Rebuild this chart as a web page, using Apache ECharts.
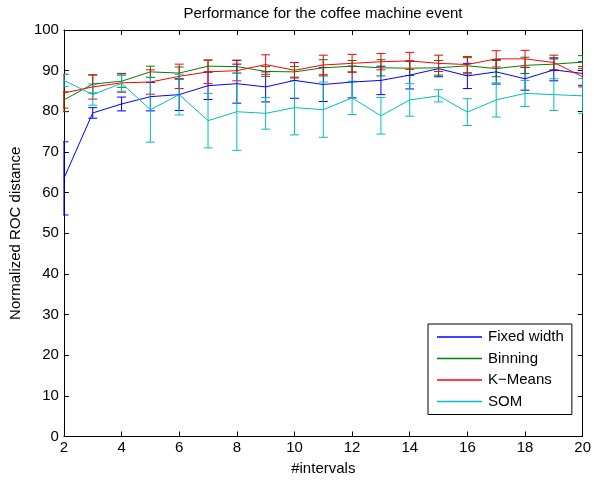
<!DOCTYPE html>
<html><head><meta charset="utf-8">
<script src="https://cdn.jsdelivr.net/npm/echarts@6/dist/echarts.min.js"></script>
<style>html,body{margin:0;padding:0;background:#fff}#c{width:594px;height:481px}</style>
</head><body><div id="c"></div>
<script>
const intervals = [2,3,4,5,6,7,8,9,10,11,12,13,14,15,16,17,18,19,20];
const xTicks = [2,4,6,8,10,12,14,16,18,20];
const yTicks = [0,10,20,30,40,50,60,70,80,90,100];

const fixedWidth    = [63.5,79.6,81.8,83.6,84.1,86.3,86.8,86.0,87.6,86.6,87.2,87.6,88.9,90.5,88.7,89.7,88.0,90.2,89.3];
const fixedWidthErr = [9.0,1.3,1.7,3.5,3.9,3.4,4.8,3.7,4.4,4.2,3.9,3.5,3.4,2.0,3.1,3.0,2.8,2.7,2.9];

const binning    = [82.8,86.7,87.4,89.7,89.4,91.1,91.0,89.8,89.7,90.7,91.1,90.7,90.6,90.7,91.2,90.5,91.3,91.6,92.1];
const binningErr = [2.0,2.2,1.5,1.4,1.5,1.5,1.6,1.2,1.3,2.0,1.4,2.0,1.8,1.8,2.0,2.0,2.0,1.6,1.6];

const kMeans    = [84.5,86.0,87.0,87.2,88.6,89.7,90.0,91.5,90.1,91.4,91.8,92.2,92.4,91.8,91.5,92.9,92.9,92.0,88.5];
const kMeansErr = [4.6,3.0,2.3,3.0,3.0,2.9,2.5,2.4,1.9,2.4,2.2,2.0,2.1,2.0,2.0,2.0,2.1,1.8,2.5];

const som    = [87.6,84.1,86.9,80.4,84.1,77.7,79.9,79.5,80.9,80.4,83.3,78.9,82.8,83.8,79.8,82.8,84.4,84.1,83.8];
const somErr = [1.5,2.6,2.0,8.0,5.0,6.7,9.5,3.9,6.7,6.8,4.1,4.5,4.0,1.5,3.3,4.2,3.2,3.9,4.3];

const names = ['Fixed width','Binning','K\u2212Means','SOM'];
const colors = ['#0000ff','#008000','#ff0000','#00bfbf'];
const FF = '"Liberation Sans", Arial, Helvetica, sans-serif';

function errSeries(name, means, errs, color) {
  return {
    type:'custom', name: name + ' err', silent:true, clip:true,
    data: intervals.map((x,i)=>[x, means[i]-errs[i], means[i]+errs[i]]),
    encode:{x:0, y:[1,2]},
    renderItem:(params, api)=>{
      const x = api.value(0);
      const lo = api.coord([x, api.value(1)]);
      const hi = api.coord([x, api.value(2)]);
      const w = 4.5;
      const style = {stroke:color, lineWidth:1, fill:null};
      return {type:'group', children:[
        {type:'line', shape:{x1:lo[0],y1:lo[1],x2:hi[0],y2:hi[1]}, style},
        {type:'line', shape:{x1:lo[0]-w,y1:lo[1],x2:lo[0]+w,y2:lo[1]}, style},
        {type:'line', shape:{x1:hi[0]-w,y1:hi[1],x2:hi[0]+w,y2:hi[1]}, style}
      ]};
    }
  };
}
function lineSeries(name, means, color) {
  return {
    type:'line', name, symbol:'none', silent:true,
    data: intervals.map((x,i)=>[x, means[i]]),
    lineStyle:{color, width:1}, itemStyle:{color},
    animation:false
  };
}

const all = [[fixedWidth,fixedWidthErr],[binning,binningErr],[kMeans,kMeansErr],[som,somErr]];
const series = [];
all.forEach((d,i)=>{
  series.push(errSeries(names[i], d[0], d[1], colors[i]));
  series.push(lineSeries(names[i], d[0], colors[i]));
});

const axisCommon = {
  type:'value',
  axisLine:{show:true, onZero:false, lineStyle:{color:'#000', width:1}},
  axisTick:{show:true, inside:true, length:5, lineStyle:{color:'#000'}},
  splitLine:{show:false}
};

const chart = echarts.init(document.getElementById('c'));
chart.setOption({
  animation:false,
  backgroundColor:'#fff',
  title:{text:'Performance for the coffee machine event', left:323, textAlign:'center', top:6, padding:0,
    textStyle:{fontFamily:FF, fontSize:15, fontWeight:'normal', color:'#000'}},
  grid:{left:61, top:30, width:523, height:413, containLabel:false},
  legend:{
    data:names, left:428, top:324, orient:'vertical',
    backgroundColor:'#fff', borderColor:'#000', borderWidth:1,
    padding:[5,8,5,9], itemGap:5.5, itemWidth:45, itemHeight:1.5, icon:'rect',
    selectedMode:false,
    textStyle:{fontFamily:FF, fontSize:15, color:'#000', lineHeight:16, padding:[0,0,0,1]}
  },
  xAxis:[
    Object.assign({}, axisCommon, {min:2, max:20, interval:2, position:'bottom',
      axisLabel:{color:'#000', fontFamily:FF, fontSize:15, margin:4,
        formatter:v=>xTicks.includes(v)?String(v):''},
      name:'#intervals', nameLocation:'middle', nameGap:24.5,
      nameTextStyle:{fontFamily:FF, fontSize:15, color:'#000'}}),
    Object.assign({}, axisCommon, {min:2, max:20, interval:2, position:'top', axisLabel:{show:false}})
  ],
  yAxis:[
    Object.assign({}, axisCommon, {min:0, max:100, interval:10, position:'left',
      axisLabel:{color:'#000', fontFamily:FF, fontSize:15, margin:5,
        formatter:v=>yTicks.includes(v)?String(v):''},
      name:'Normalized ROC distance', nameLocation:'middle', nameGap:37,
      nameTextStyle:{fontFamily:FF, fontSize:15, color:'#000'}}),
    Object.assign({}, axisCommon, {min:0, max:100, interval:10, position:'right', axisLabel:{show:false}})
  ],
  series
});
</script></body></html>
